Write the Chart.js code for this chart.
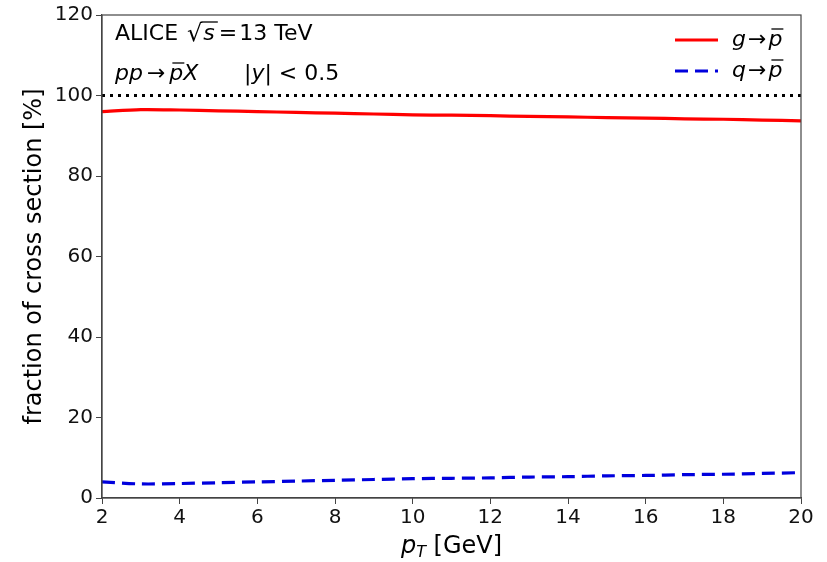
<!DOCTYPE html>
<html><head><meta charset="utf-8">
<script src="https://cdn.jsdelivr.net/npm/chart.js@4/dist/chart.umd.min.js"></script>
<style>html,body{margin:0;padding:0;background:#fff}#wrap{width:827px;height:562px}</style>
</head><body><div id="wrap"><canvas id="c" width="827" height="562"></canvas></div>
<script>
const pT = [2,3,4,5,6,7,8,9,10,11,12,13,14,15,16,17,18,19,20];
const gluon = [96.0,96.5,96.4,96.2,96.0,95.8,95.6,95.4,95.2,95.1,95.0,94.8,94.7,94.5,94.4,94.2,94.1,93.9,93.7];
const quark = [4.0,3.5,3.6,3.8,4.0,4.2,4.4,4.6,4.8,4.9,5.0,5.2,5.3,5.5,5.6,5.8,5.9,6.1,6.3];
const total = [100,100];
const totalX = [2,20];
const xTicks = [2,4,6,8,10,12,14,16,18,20];
const yTicks = [0,20,40,60,80,100,120];
const legendLabels = ["g", "q"];

const FONT = "'DejaVu Sans', sans-serif";
const FS = 22;
const framePlugin = {
  id: 'frame',
  afterDatasetsDraw(chart) {
    const {ctx, chartArea: a} = chart;
    ctx.save();
    ctx.strokeStyle = '#444'; ctx.lineWidth = 1.2;
    ctx.strokeRect(a.left, a.top, a.right - a.left, a.bottom - a.top);
    const R = FS + 'px ' + FONT, I = 'italic ' + FS + 'px ' + FONT;
    // annotations
    ctx.fillStyle = '#000'; ctx.textBaseline = 'alphabetic';
    ctx.font = R;
    let x = a.left + 13, y = 40;
    ctx.fillText('ALICE', x, y); x += ctx.measureText('ALICE').width + 9;
    ctx.font = '24px ' + FONT;
    ctx.fillText('\u221A', x, y + 1); const rw = ctx.measureText('\u221A').width; x += rw;
    ctx.font = I;
    const sw = ctx.measureText('s').width;
    ctx.fillText('s', x + 1, y);
    ctx.beginPath(); ctx.lineWidth = 1.3; ctx.strokeStyle = '#000';
    ctx.moveTo(x - 1, y - 18); ctx.lineTo(x + sw + 4, y - 18); ctx.stroke();
    x += sw + 5;
    ctx.font = R;
    ctx.fillText('=', x, y); x += ctx.measureText('=').width + 2;
    ctx.fillText('13 TeV', x, y);
    // second line
    x = a.left + 13; y = 80;
    ctx.font = I;
    ctx.fillText('pp', x, y); x += ctx.measureText('pp').width + 4;
    ctx.font = R;
    ctx.fillText('\u2192', x, y); x += ctx.measureText('\u2192').width + 4;
    ctx.font = I;
    const pw = ctx.measureText('p').width;
    ctx.fillText('p', x, y);
    ctx.beginPath(); ctx.moveTo(x + 3, y - 17); ctx.lineTo(x + pw + 1, y - 17); ctx.stroke();
    x += pw;
    ctx.fillText('X', x, y);
    x = a.left + 142;
    ctx.font = R;
    ctx.fillText('|', x, y); x += ctx.measureText('|').width;
    ctx.font = I;
    ctx.fillText('y', x, y); x += ctx.measureText('y').width;
    ctx.font = R;
    ctx.fillText('| < 0.5', x, y);
    // legend
    const items = [{c:'#ff0000', d:[], lab:legendLabels[0], y:40},{c:'#0000dd', d:[13,7], lab:legendLabels[1], y:71}];
    items.forEach(it => {
      ctx.beginPath(); ctx.strokeStyle = it.c; ctx.lineWidth = 3.2; ctx.setLineDash(it.d);
      ctx.moveTo(675, it.y); ctx.lineTo(718, it.y); ctx.stroke(); ctx.setLineDash([]);
      let lx = 732, ly = it.y + 6;
      ctx.fillStyle = '#000';
      ctx.font = I;
      ctx.fillText(it.lab, lx, ly); lx += ctx.measureText(it.lab).width + 2;
      ctx.font = R;
      ctx.fillText('\u2192', lx, ly); lx += ctx.measureText('\u2192').width + 2;
      ctx.font = I;
      const w = ctx.measureText('p').width;
      ctx.fillText('p', lx, ly);
      ctx.beginPath(); ctx.strokeStyle = '#000'; ctx.lineWidth = 1.3;
      ctx.moveTo(lx + 3, ly - 17); ctx.lineTo(lx + w + 1, ly - 17); ctx.stroke();
    });
    // x axis title
    ctx.fillStyle = '#000';
    ctx.font = 'italic 24px ' + FONT;
    const p1 = ctx.measureText('p').width;
    ctx.font = 'italic 16px ' + FONT;
    const t1 = ctx.measureText('T').width;
    ctx.font = '24px ' + FONT;
    const rest = ' [GeV]';
    const r1 = ctx.measureText(rest).width;
    const tot = p1 + t1 + r1;
    let tx = (a.left + a.right) / 2 - tot / 2; const ty = 553;
    ctx.font = 'italic 24px ' + FONT; ctx.fillText('p', tx, ty); tx += p1;
    ctx.font = 'italic 16px ' + FONT; ctx.fillText('T', tx, ty + 4); tx += t1;
    ctx.font = '24px ' + FONT; ctx.fillText(rest, tx, ty);
    ctx.restore();
  }
};

new Chart(document.getElementById('c'), {
  type: 'line',
  data: {
    datasets: [
      {label: 'total', data: totalX.map((x,i)=>({x, y: total[i]})), borderColor: '#000', borderWidth: 3.2, borderDash: [3,5], pointRadius: 0, fill: false},
      {label: 'g', data: pT.map((x,i)=>({x, y: gluon[i]})), borderColor: '#ff0000', borderWidth: 3.2, pointRadius: 0, tension: 0.3, fill: false},
      {label: 'q', data: pT.map((x,i)=>({x, y: quark[i]})), borderColor: '#0000dd', borderWidth: 3.2, borderDash: [13,7], pointRadius: 0, tension: 0.3, fill: false}
    ]
  },
  options: {
    responsive: false, animation: false,
    layout: {padding: {top: 12, right: 26, left: 20, bottom: 0}},
    plugins: {legend: {display: false}, tooltip: {enabled: false}},
    scales: {
      x: {type: 'linear', min: 2, max: 20,
        afterBuildTicks: s => { s.ticks = xTicks.map(v => ({value: v})); },
        afterFit: s => { s.height = 64; },
        grid: {drawOnChartArea: false, tickLength: 6, color: '#444'},
        border: {color: '#444', width: 1.2},
        ticks: {color: '#111', font: {family: FONT, size: 20}, padding: 2, maxRotation: 0}
      },
      y: {min: 0, max: 120,
        afterBuildTicks: s => { s.ticks = yTicks.map(v => ({value: v})); },
        afterFit: s => { s.width = 82; },
        grid: {drawOnChartArea: false, tickLength: 6, color: '#444'},
        border: {color: '#444', width: 1.2},
        ticks: {color: '#111', font: {family: FONT, size: 20}, padding: 3},
        title: {display: true, text: 'fraction of cross section [%]', color: '#000', font: {family: FONT, size: 24}, padding: {top: 0, bottom: 4}}
      }
    }
  },
  plugins: [framePlugin]
});
</script></body></html>
